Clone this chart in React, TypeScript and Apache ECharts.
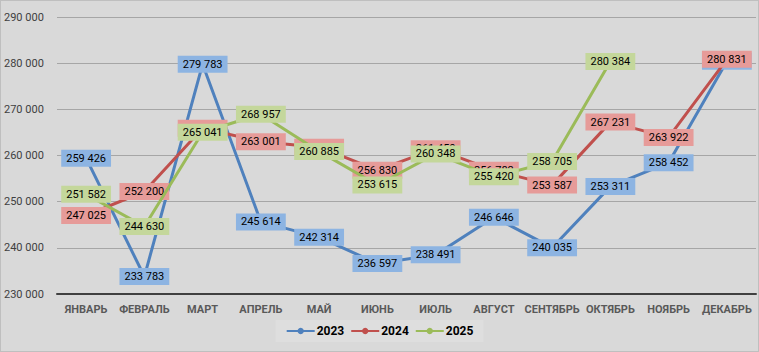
import React, { useEffect, useRef } from "react";
import * as echarts from "echarts";

const categories = ["ЯНВАРЬ", "ФЕВРАЛЬ", "МАРТ", "АПРЕЛЬ", "МАЙ", "ИЮНЬ", "ИЮЛЬ", "АВГУСТ", "СЕНТЯБРЬ", "ОКТЯБРЬ", "НОЯБРЬ", "ДЕКАБРЬ"];
const values2023 = [259426, 233783, 279783, 245614, 242314, 236597, 238491, 246646, 240035, 253311, 258452, 280400];
const values2024 = [247025, 252200, 265900, 263001, 261800, 256830, 261450, 256782, 253587, 267231, 263922, 280831];
const values2025 = [251582, 244630, 265041, 268957, 260885, 253615, 260348, 255420, 258705, 280384, null, null];
const seriesNames = ["2023", "2024", "2025"];
const lineColors = ["#4f81bd", "#c0504d", "#9bbb59"];
const labelColors = ["#8db4e2", "#e69b99", "#c4d79b"];
const yTicks = { min: 230000, max: 290000, interval: 10000 };

const fmt = (v: number) => {
  const s = String(Math.round(v));
  return s.replace(/\B(?=(\d{3})+(?!\d))/g, " ");
};

export default function App() {
  const ref = useRef<HTMLDivElement>(null);
  useEffect(() => {
    if (!ref.current) return;
    const chart = echarts.init(ref.current, undefined, { renderer: "svg" });
    const all = [values2023, values2024, values2025];
    chart.setOption({
      animation: false,
      backgroundColor: "#d9d9d9",
      textStyle: { fontFamily: "Roboto" },
      grid: { left: 56, right: 2, top: 16, bottom: 57, containLabel: false },
      legend: {
        data: seriesNames,
        bottom: 9,
        left: "center",
        backgroundColor: "#dedede",
        padding: [5, 10],
        itemWidth: 28,
        itemHeight: 8,
        itemGap: 6,
        textStyle: { fontSize: 12, fontWeight: "bold", color: "#000", fontFamily: "Roboto", padding: [0, 0, 0, -3] },
      },
      xAxis: {
        type: "category",
        data: categories,
        boundaryGap: true,
        axisLine: { lineStyle: { color: "#404040", width: 2 } },
        axisTick: { show: false },
        axisLabel: { color: "#595959", fontSize: 11, fontWeight: "bold", margin: 10, interval: 0 },
      },
      yAxis: {
        type: "value",
        min: yTicks.min,
        max: yTicks.max,
        interval: yTicks.interval,
        axisLine: { show: false },
        axisTick: { show: false },
        splitLine: { lineStyle: { color: "#a6a6a6", width: 1 } },
        axisLabel: {
          color: "#404040",
          fontSize: 11,
          align: "left",
          margin: 53,
          formatter: (v: number) => fmt(v),
        },
      },
      series: all.map((data, i) => ({
        name: seriesNames[i],
        type: "line",
        data,
        color: lineColors[i],
        lineStyle: { width: 3, color: lineColors[i] },
        symbol: "circle",
        symbolSize: 13,
        itemStyle: { color: lineColors[i] },
        z: 2 + i,
        label: {
          show: true,
          position: "inside",
          formatter: (p: any) => fmt(p.value),
          color: "#000",
          fontSize: 11,
          fontFamily: "Roboto",
          backgroundColor: labelColors[i],
          padding: [3, 5],
        },
        labelLayout: { hideOverlap: false },
      })),
    });
    return () => chart.dispose();
  }, []);
  return (
    <div
      ref={ref}
      style={{ position: "absolute", left: 0, top: 0, width: 759, height: 352, boxSizing: "border-box", border: "1px solid #bfbfbf" }}
    />
  );
}
